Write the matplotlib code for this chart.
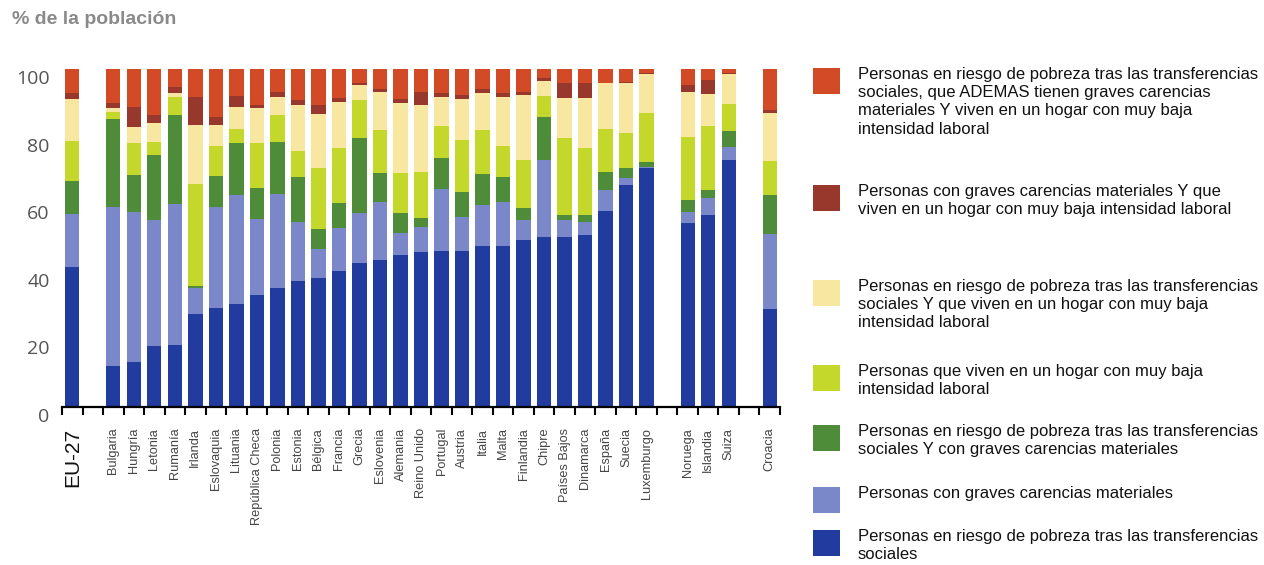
# -*- coding: utf-8 -*-
"""
Población en riesgo de pobreza o exclusión social, por tipo de riesgo.
Barras apiladas (% de la población) para la EU-27 y los países.
"""

import matplotlib.pyplot as plt
import matplotlib.transforms as mtransforms
from matplotlib.patches import Rectangle

# Datos
grupos = [
    ["EU-27"],
    ["Bulgaria", "Hungría", "Letonia", "Rumanía", "Irlanda", "Eslovaquia",
     "Lituania", "República Checa", "Polonia", "Estonia", "Bélgica", "Francia",
     "Grecia", "Eslovenia", "Alemania", "Reino Unido", "Portugal", "Austria",
     "Italia", "Malta", "Finlandia", "Chipre", "Países Bajos", "Dinamarca",
     "España", "Suecia", "Luxemburgo"],
    ["Noruega", "Islandia", "Suiza"],
    ["Croacia"],
]

# Segmentos de abajo hacia arriba, un valor por país (mismo orden que grupos)
solo_pobreza = [41.3,
                12.1, 13.4, 18.0, 18.3, 27.5, 29.2, 30.5, 33.1, 35.3, 37.4, 38.1, 40.3,
                42.5, 43.5, 45.0, 46.0, 46.3, 46.3, 47.6, 47.6, 49.4, 50.4, 50.4, 50.9,
                58.1, 65.7, 70.6,
                54.3, 56.8, 73.1,
                28.9]
solo_carencias = [15.8,
                  47.2, 44.4, 37.3, 41.8, 7.6, 30.1, 32.2, 22.4, 27.6, 17.4, 8.5, 12.6,
                  14.8, 17.2, 6.6, 7.4, 18.1, 10.0, 12.2, 13.1, 5.9, 22.7, 4.9, 3.9,
                  6.1, 2.0, 0.3,
                  3.5, 4.9, 3.7,
                  22.3]
pobreza_carencias = [9.9,
                     25.8, 10.8, 19.3, 26.3, 0.7, 9.0, 15.3, 9.2, 15.6, 13.3, 6.0, 7.6,
                     22.2, 8.6, 5.9, 2.6, 9.2, 7.4, 9.1, 7.2, 3.5, 12.6, 1.5, 2.0,
                     5.4, 2.9, 1.7,
                     3.4, 2.5, 5.0,
                     11.5]
solo_baja_intensidad = [11.7,
                        2.3, 9.4, 3.9, 5.2, 30.2, 8.9, 4.2, 13.5, 7.9, 7.7, 18.0, 16.0,
                        11.3, 12.8, 11.8, 13.6, 9.5, 15.3, 13.1, 9.3, 14.3, 6.3, 22.7, 19.7,
                        12.6, 10.4, 14.5,
                        18.6, 19.0, 7.8,
                        10.2]
pobreza_baja_intensidad = [12.3,
                           1.2, 4.9, 5.6, 1.4, 17.4, 6.2, 6.7, 10.2, 5.4, 13.5, 16.1, 13.8,
                           4.5, 11.2, 20.5, 19.7, 8.5, 12.0, 10.8, 14.4, 19.2, 4.5, 11.8, 14.8,
                           13.6, 14.8, 11.4,
                           13.5, 9.4, 8.9,
                           14.2]
carencias_baja_intensidad = [1.8,
                             1.4, 6.0, 2.3, 1.8, 8.4, 2.5, 3.1, 0.9, 1.5, 1.5, 2.6, 1.0,
                             0.7, 0.7, 1.2, 4.0, 1.2, 1.3, 1.2, 1.2, 1.0, 0.7, 4.5, 4.5,
                             0.2, 0.5, 0.2,
                             2.0, 4.1, 0.4,
                             0.8]
los_tres = [7.2,
            10.0, 11.1, 13.6, 5.2, 8.2, 14.1, 8.0, 10.7, 6.7, 9.2, 10.7, 8.7,
            4.0, 6.0, 9.0, 6.7, 7.2, 7.7, 6.0, 7.2, 6.7, 2.8, 4.2, 4.2,
            4.0, 3.7, 1.3,
            4.7, 3.3, 1.1,
            12.1]

segmentos = [solo_pobreza, solo_carencias, pobreza_carencias, solo_baja_intensidad,
             pobreza_baja_intensidad, carencias_baja_intensidad, los_tres]

etiquetas_leyenda = [
    "Personas en riesgo de pobreza tras las transferencias\nsociales",
    "Personas con graves carencias materiales",
    "Personas en riesgo de pobreza tras las transferencias\nsociales Y con graves carencias materiales",
    "Personas que viven en un hogar con muy baja\nintensidad laboral",
    "Personas en riesgo de pobreza tras las transferencias\nsociales Y que viven en un hogar con muy baja\nintensidad laboral",
    "Personas con graves carencias materiales Y que\nviven en un hogar con muy baja intensidad laboral",
    "Personas en riesgo de pobreza tras las transferencias\nsociales, que ADEMAS tienen graves carencias\nmateriales Y viven en un hogar con muy baja\nintensidad laboral",
]

colores = ["#213b9e", "#7a87c8", "#4f8c3a", "#c3d82b", "#f7e7a0", "#98382c", "#d34a26"]

# Posición superior (px) de cada cuadro de leyenda, de arriba hacia abajo
y_leyenda = [68, 185, 280, 365, 425, 487, 530]

ANCHO, ALTO, DPI = 1264, 565, 100


def posiciones(grupos):
    """Posiciones de las barras dejando un hueco entre grupos."""
    pos, nombres, x = [], [], 0
    for g in grupos:
        for nombre in g:
            pos.append(x)
            nombres.append(nombre)
            x += 1
        x += 1
    return pos, nombres, x - 1


def dibujar_barras(ax, pos):
    base = [0.0] * len(pos)
    for valores, color in zip(segmentos, colores):
        ax.bar(pos, valores, bottom=base, width=0.7, color=color, linewidth=0)
        base = [b + v for b, v in zip(base, valores)]


def formato_ejes(ax, pos, nombres, n_huecos):
    ax.set_xlim(-0.5, n_huecos - 0.5)
    ax.set_ylim(0, 100)
    for lado in ["top", "right", "left"]:
        ax.spines[lado].set_visible(False)
    ax.spines["bottom"].set_linewidth(1.6)

    ax.set_xticks(pos)
    ax.set_xticklabels(nombres, rotation=90, fontsize=9.2, color="#444444",
                       family="Liberation Sans", va="top")
    ax.set_xticks([i - 0.5 for i in range(n_huecos + 1)], minor=True)
    ax.tick_params(axis="x", which="major", length=0, pad=15)
    ax.tick_params(axis="x", which="minor", length=6, width=1.5, color="black")
    etiqueta_ue = ax.get_xticklabels()[0]
    etiqueta_ue.set_fontsize(15)
    etiqueta_ue.set_color("#111111")

    ax.set_yticks(range(0, 101, 20))
    ax.tick_params(axis="y", length=0, pad=9, labelsize=14, labelcolor="#555555")
    desplazamiento = mtransforms.ScaledTranslation(0, -0.08, ax.figure.dpi_scale_trans)
    for lab in ax.get_yticklabels():
        lab.set_family("Open Sans")
        lab.set_transform(lab.get_transform() + desplazamiento)


def dibujar_leyenda(fig):
    """Leyenda manual a la derecha (de arriba hacia abajo: del último segmento al primero)."""
    for i, y in enumerate(y_leyenda):
        k = len(colores) - 1 - i
        fig.add_artist(Rectangle((813 / ANCHO, 1 - (y + 26) / ALTO), 27 / ANCHO, 26 / ALTO,
                                 transform=fig.transFigure, color=colores[k], lw=0))
        fig.text(858 / ANCHO, 1 - (y - 1) / ALTO, etiquetas_leyenda[k], va="top", ha="left",
                 fontsize=12, family="Liberation Sans", color="#111111", linespacing=1.27)


def main():
    fig = plt.figure(figsize=(ANCHO / DPI, ALTO / DPI), dpi=DPI)
    ax = fig.add_axes([62 / ANCHO, 1 - 407 / ALTO, (780 - 62) / ANCHO, (407 - 69) / ALTO])

    pos, nombres, n_huecos = posiciones(grupos)
    dibujar_barras(ax, pos)
    formato_ejes(ax, pos, nombres, n_huecos)
    dibujar_leyenda(fig)

    fig.text(12 / ANCHO, 1 - 19 / ALTO, "% de la población", va="center", ha="left",
             fontsize=14, weight="bold", color="#8a8a8a", family="Liberation Sans")

    fig.savefig("out.png", dpi=DPI)


if __name__ == "__main__":
    main()
